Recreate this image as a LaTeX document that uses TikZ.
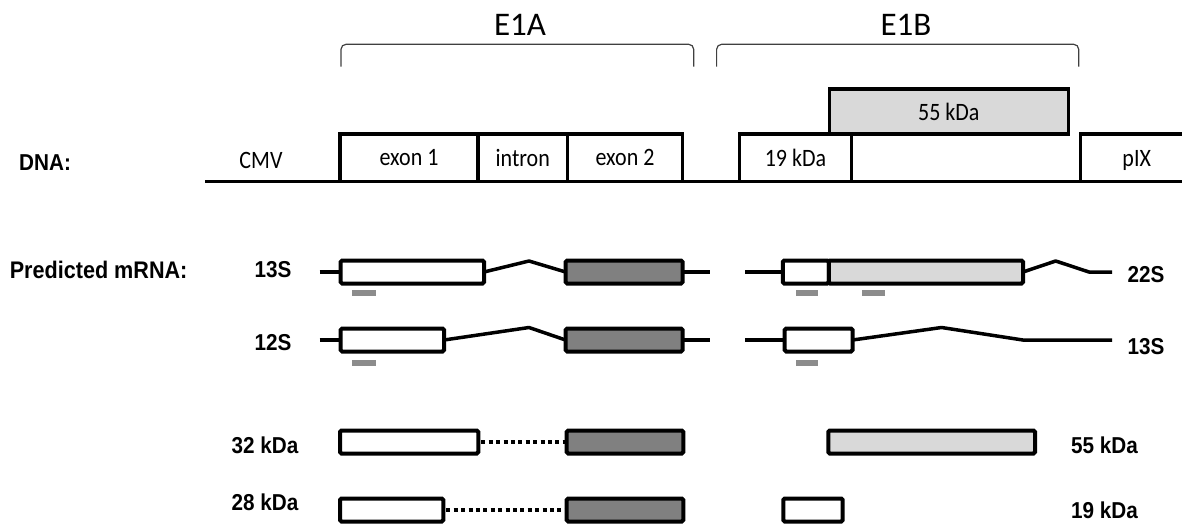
\documentclass[tikz,border=0pt]{standalone}
\usepackage{fontspec}
\setmainfont{Carlito}
\newfontfamily\lsans{Liberation Sans}[FakeStretch=0.9]
\newfontfamily\calc{Carlito}[FakeStretch=0.88]
\definecolor{darkfill}{HTML}{808080}
\definecolor{lightfill}{HTML}{D9D9D9}
\definecolor{barc}{HTML}{8C8C8C}
\definecolor{brkc}{HTML}{404040}
\begin{document}
\begin{tikzpicture}[x=1pt,y=-1pt,
  lbl/.style={font=\lsans\bfseries\fontsize{23}{26}\selectfont, inner sep=0pt},
  cal/.style={font=\calc\fontsize{25}{28}\selectfont, inner sep=0pt},
  big/.style={font=\fontsize{33}{36}\selectfont, inner sep=0pt},
  dnabox/.style={draw, line width=3.5pt, rectangle, inner sep=0pt, outer sep=0pt,
     minimum height=47.5pt, font=\calc\fontsize{25}{28}\selectfont},
  rbox/.style={draw, line width=4pt, rectangle, inner sep=0pt, outer sep=0pt,
     minimum height=23pt, rounded corners=1.5pt},
  wire/.style={line width=3.5pt, line join=round},
  dnaline/.style={line width=3.5pt},
  dotline/.style={line width=4pt, dash pattern=on 4pt off 3.4pt, dash phase=-3pt},
  brk/.style={draw=brkc, line width=1.2pt, rounded corners=5pt},
  gbar/.style={fill=barc, rectangle, inner sep=0pt, minimum height=6pt}
]
\useasboundingbox (0,0) rectangle (1182,530);

% ---------- brackets and region labels ----------
\coordinate (a1) at (341,66.7);  \coordinate (a2) at (341,44.3);
\coordinate (a3) at (693.7,44.3); \coordinate (a4) at (693.7,66.7);
\coordinate (b1) at (716.6,66.7); \coordinate (b2) at (716.6,44.3);
\coordinate (b3) at (1078.7,44.3); \coordinate (b4) at (1078.7,66.7);
\draw[brk] (a1) -- (a2) -- (a3) -- (a4);
\draw[brk] (b1) -- (b2) -- (b3) -- (b4);
\node[big] (e1a) at (520,25) {E1A};
\node[big] (e1b) at (906,25) {E1B};

% ---------- DNA ----------
\coordinate (dl) at (205,181.5);
\coordinate (dr) at (1182,181.5);
\draw[dnaline] (dl) -- (dr);
\node[dnabox, minimum width=138pt] (ex1) at (409,157.75) {exon 1};
\node[dnabox, minimum width=89.5pt] (intr) at (522.75,157.75) {intron};
\node[dnabox, minimum width=115pt] (ex2) at (625,157.75) {exon 2};
\node[dnabox, minimum width=112.4pt] (k19) at (795.5,157.75) {19 kDa};
\node[dnabox, minimum width=239pt, minimum height=45pt, fill=lightfill] (k55) at (948.8,111.5) {55 kDa};
\coordinate (px1) at (1190,134);
\coordinate (px2) at (1080.7,134);
\coordinate (px3) at (1080.7,181.5);
\draw[dnaline] (px1) -- (px2) -- (px3);
\node[cal] (pix) at (1136.7,160) {pIX};
\node[cal] (cmv) at (261,160) {CMV};
\node[lbl, anchor=west] (dna) at (19,163) {DNA:};

% ---------- predicted mRNA ----------
\node[lbl, anchor=west, font=\lsans\bfseries\fontsize{24}{26}\selectfont] (pm) at (9.6,270) {Predicted mRNA:};
\node[lbl] (l13) at (273,270) {13S};
\node[lbl] (l12) at (273,343) {12S};
\node[lbl] (r22) at (1146,275) {22S};
\node[lbl] (r13) at (1146,346.7) {13S};

\node[rbox, minimum width=143.4pt] (A1) at (412.3,272) {};
\node[rbox, minimum width=117pt, fill=darkfill] (A2) at (624.1,272) {};
\node[rbox, minimum width=103.4pt] (B1) at (392.3,340) {};
\node[rbox, minimum width=117pt, fill=darkfill] (B2) at (624.1,340) {};
\node[rbox, minimum width=194.2pt, fill=lightfill] (C2) at (925.9,272) {};
\node[rbox, minimum width=46pt] (C1) at (805.8,272) {};
\node[rbox, minimum width=67.8pt] (D1) at (818.6,340) {};

\coordinate (sA) at (319.5,272); \coordinate (pkA) at (529,261);  \coordinate (eA) at (710,272);
\coordinate (sB) at (319.5,340); \coordinate (pkB) at (529,327.5); \coordinate (eB) at (710,340);
\coordinate (sC) at (745,272); \coordinate (pkC) at (1055.7,261); \coordinate (dC) at (1089,272); \coordinate (eC) at (1112,272);
\coordinate (sD) at (745,340); \coordinate (pkD) at (941.6,327.5); \coordinate (dD) at (1022.8,340); \coordinate (eD) at (1112,340);

\draw[wire] (sA) -- (A1.west);
\draw[wire] (A1.east) -- (pkA) -- (A2.west);
\draw[wire] (A2.east) -- (eA);
\draw[wire] (sB) -- (B1.west);
\draw[wire] (B1.east) -- (pkB) -- (B2.west);
\draw[wire] (B2.east) -- (eB);
\draw[wire] (sC) -- (C1.west);
\draw[wire] (C2.east) -- (pkC) -- (dC) -- (eC);
\draw[wire] (sD) -- (D1.west);
\draw[wire] (D1.east) -- (pkD) -- (dD) -- (eD);

\node[gbar, minimum width=24pt] (g1) at (364,293) {};
\node[gbar, minimum width=24pt] (g2) at (364,362.7) {};
\node[gbar, minimum width=22.5pt] (g3) at (806.75,293) {};
\node[gbar, minimum width=23pt] (g4) at (873.9,293) {};
\node[gbar, minimum width=22.5pt] (g5) at (806.75,362.7) {};

% ---------- proteins ----------
\node[lbl] (k32l) at (265,445) {32 kDa};
\node[lbl] (k28l) at (265,502) {28 kDa};
\node[lbl] (k55l) at (1104.5,445) {55 kDa};
\node[lbl] (k19l) at (1104.5,510) {19 kDa};

\node[rbox, minimum width=138.3pt] (P1) at (409.15,442) {};
\node[rbox, minimum width=116.6pt, fill=darkfill] (P2) at (625,442) {};
\node[rbox, minimum width=103.3pt] (P3) at (391.65,510) {};
\node[rbox, minimum width=116.6pt, fill=darkfill] (P4) at (625,510) {};
\node[rbox, minimum width=206.7pt, fill=lightfill] (P5) at (931.65,442) {};
\node[rbox, minimum width=59.4pt] (P6) at (813,510) {};

\draw[dotline] (P1.east) -- (P2.west);
\draw[dotline] (P3.east) -- (P4.west);
\end{tikzpicture}
\end{document}
